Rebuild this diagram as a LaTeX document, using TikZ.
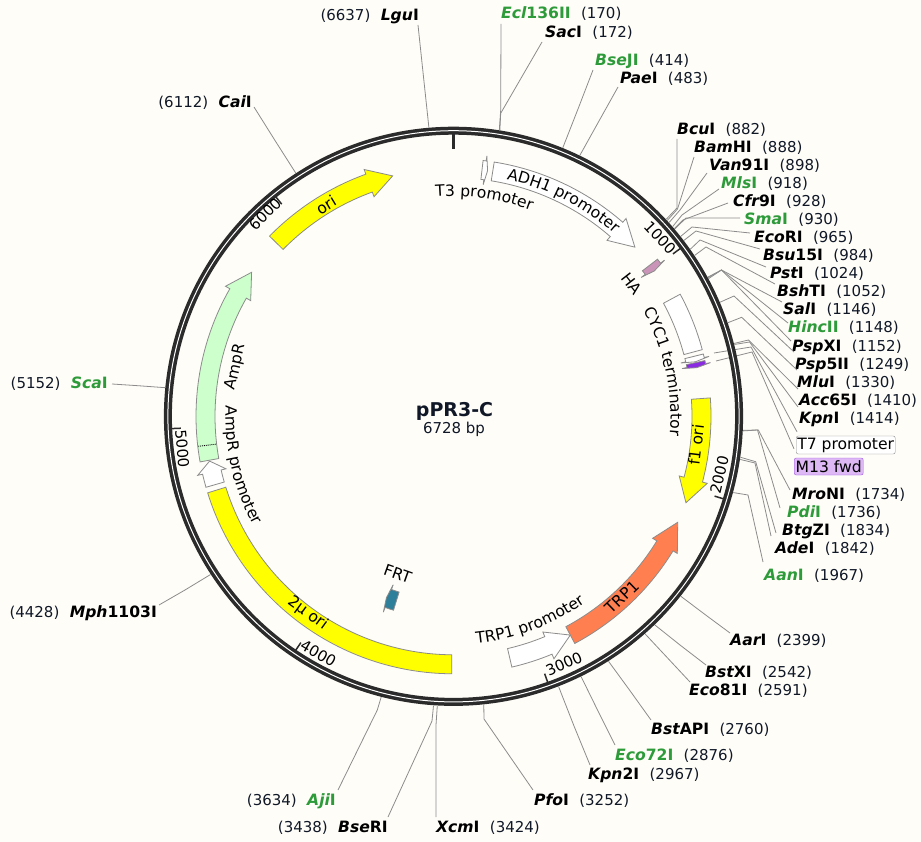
\documentclass[tikz,border=0pt]{standalone}
\usepackage{fontspec}
\setmainfont{DejaVu Sans}
\usetikzlibrary{calc,positioning,decorations.text}

\definecolor{paper}{HTML}{FFFDF7}
\definecolor{ringdark}{HTML}{2B2B2B}
\definecolor{leadgray}{HTML}{8C8C8C}
\definecolor{sitegreen}{HTML}{2E9B3A}
\definecolor{sitedark}{HTML}{000000}
\definecolor{numdark}{HTML}{101828}
\definecolor{oriyellow}{HTML}{FFFF00}
\definecolor{orangetrp}{HTML}{FF7F50}
\definecolor{mintamp}{HTML}{CCFFCC}
\definecolor{pinkha}{HTML}{C994B8}
\definecolor{bluefrt}{HTML}{2E7F9A}
\definecolor{purplem}{HTML}{8A2BE2}
\definecolor{lilacm}{HTML}{DDB8F5}

\newcommand{\featfont}{\fontsize{15.6}{18}\selectfont}
\newcommand{\enz}[2]{{\bfseries\itshape #1}{\bfseries #2}}

% arrow on the track: fill, tail, head base, tip (clock angles), optional mid radius
\newcommand{\featarrow}[5][248]{
    \draw[feat,fill=#2] ({#3-90}:{#1+9.5})
        arc [start angle={#3-90}, end angle={#4-90}, radius={#1+9.5}]
        -- ({#4-90}:{#1+14.5}) -- ({#5-90}:#1) -- ({#4-90}:{#1-14.5}) -- ({#4-90}:{#1-9.5})
        arc [start angle={#4-90}, end angle={#3-90}, radius={#1-9.5}] -- cycle;
}
% plain band on the track
\newcommand{\featband}[3]{
    \draw[feat,fill=#1] ({#2-90}:257.5)
        arc [start angle={#2-90}, end angle={#3-90}, radius=257.5]
        -- ({#3-90}:238.5)
        arc [start angle={#3-90}, end angle={#2-90}, radius=238.5] -- cycle;
}
% text bent along a circle
\newcommand{\arctext}[4]{
    \path[decorate, decoration={text along path, text align=center, text={|\featfont|#4}}]
        ({#1-90}:#3) arc [start angle={#1-90}, end angle={#2-90}, radius=#3];
}

\tikzset{
    sitename/.style={font=\fontsize{15.6}{18}\selectfont, inner sep=0pt, text height=10pt, text depth=0pt},
    sitenum/.style={font=\fontsize{15}{18}\selectfont, inner sep=0pt, text height=10pt, text depth=0pt, text=numdark},
    leader/.style={draw=leadgray, line width=0.8pt},
    feat/.style={draw=leadgray, line width=0.8pt, line join=miter},
    featlabel/.style={font=\featfont, inner sep=0pt},
    tickmark/.style={draw=ringdark, line width=1.5pt},
    ticklabel/.style={font=\fontsize{15}{18}\selectfont, inner sep=0pt}
}

\begin{document}
\begin{tikzpicture}[x=1pt, y=-1pt]
    \fill[paper] (0,0) rectangle (921,842);
    \useasboundingbox (0,0) rectangle (921,842);
    \coordinate (c) at (453.5,416.3);

    % Sites with the number on the right
    \foreach \nx/\ny/\itpart/\rmpart/\pos/\col/\kx/\ky/\dx/\dy in {
        501/14/Ecl/136II/170/sitegreen/500.7/110/0/10,
        545/33/Sac/I/172/sitedark/500.7/113.3/-3/9,
        595/61/Bse/JI/414/sitegreen/578/109/-2/9,
        620/79/Pae/I/483/sitedark/599/121/-2/8,
        677/130/Bcu/I/882/sitedark/677/208/0/9,
        694/148/Bam/HI/888/sitedark/677.5/209/0/9,
        709/166/Van/91I/898/sitedark/680/210/-2/7,
        721/184/Mls/I/918/sitegreen/682/215/-2/5,
        733/202/Cfr/9I/928/sitedark/683/220/-5/1,
        744/220/Sma/I/930/sitegreen/686/218/-4/-2,
        754/238/Eco/RI/965/sitedark/692/227/-4/-5,
        763/256/Bsu/15I/984/sitedark/696/231/-3/-7,
        770/274/Pst/I/1024/sitedark/700/240/-4/-7,
        777/292/Bsh/TI/1052/sitedark/706/247/-2/-8,
        783/310/Sal/I/1146/sitedark/721.5/270/-1/-8,
        788/328/Hinc/II/1148/sitegreen/721.5/270/0/-5,
        792/346/Psp/XI/1152/sitedark/721.5/270/-1/-5,
        795/364/Psp/5II/1249/sitedark/734/296/-1/-12,
        797/382/Mlu/I/1330/sitedark/741.7/317.3/0/-12,
        799/400/Acc/65I/1410/sitedark/748.5/340/-1/-11,
        799/418/Kpn/I/1414/sitedark/749.5/342/-1/-11,
        792/494/Mro/NI/1734/sitedark/758.3/430/-2/-4,
        787/512/Pdi/I/1736/sitegreen/757.5/430/-7/-4,
        782/530/Btg/ZI/1834/sitedark/755.7/461.7/-6/3,
        775/548/Ade/I/1842/sitedark/755/463/-4/-12,
        764/575/Aan/I/1967/sitegreen/748/495/-1/-13,
        730/640/Aar/I/2399/sitedark/705/614.5/0/-7,
        705/672/Bst/XI/2542/sitedark/680/645/1/-7,
        689/690/Eco/81I/2591/sitedark/667.6/658/1/-8,
        651/729/Bst/API/2760/sitedark/630/690.7/0/-9,
        615/755/Eco/72I/2876/sitegreen/598/711/0/-10,
        588/774/Kpn/2I/2967/sitedark/574/726/2/-9,
        534/800/Pfo/I/3252/sitedark/484/719/-1/-10,
        436/827/Xcm/I/3424/sitedark/436/725/0/-10} {
        \node[sitename, anchor=west, text=\col] (s\pos) at (\nx,\ny) {\enz{\itpart}{\rmpart}};
        \node[sitenum, right=10pt of s\pos] (n\pos) {(\pos)};
        \coordinate (r\pos) at ($(c)+({\pos/6728*360-90}:290)$);
        \coordinate (k\pos) at (\kx,\ky);
        \draw[leader] (r\pos) -- (k\pos) -- ($(s\pos.west)+(\dx,\dy)$);
    }

    % Sites with the number on the left
    \foreach \nx/\ny/\itpart/\rmpart/\pos/\col/\kx/\ky/\dx/\dy in {
        419/16/Lgu/I/6637/sitedark/423.4/76/-1/9,
        252/103/Cai/I/6112/sitedark/274.7/140/2/4,
        108/383/Sca/I/5152/sitegreen/138/385.7/4/1,
        157/612/Mph/1103I/4428/sitedark/185/590/2/-7,
        336/800/Aji/I/3634/sitegreen/377.3/710/2/-10,
        388/827/Bse/RI/3438/sitedark/432/721/0/-10} {
        \node[sitename, anchor=east, text=\col] (s\pos) at (\nx,\ny) {\enz{\itpart}{\rmpart}};
        \node[sitenum, left=10pt of s\pos] (n\pos) {(\pos)};
        \coordinate (r\pos) at ($(c)+({\pos/6728*360-90}:290)$);
        \coordinate (k\pos) at (\kx,\ky);
        \draw[leader] (r\pos) -- (k\pos) -- ($(s\pos.east)+(\dx,\dy)$);
    }

    % Feature boxes on the right
    \node[draw=leadgray, fill=white, rounded corners=2pt, inner sep=0pt, minimum width=99pt, minimum height=18pt,
        font=\featfont, anchor=west] (t7box) at (796,445) {T7 promoter};
    \node[draw=purplem!80, fill=lilacm, rounded corners=2pt, inner sep=0pt, minimum width=69pt, minimum height=17pt,
        font=\featfont, anchor=west] (m13box) at (794,466.5) {M13 fwd};
    \coordinate (t7foot) at (714,353);
    \coordinate (t7knee) at (751,347);
    \coordinate (m13foot) at (716,361);
    \coordinate (m13knee) at (752,352);
    \draw[leader] (t7foot) -- (t7knee) -- ($(t7box.north west)+(1,-4)$);
    \draw[leader] (m13foot) -- (m13knee) -- ($(m13box.north west)+(0,-9)$);

    % Backbone
    \draw[ringdark, line width=8pt] (c) circle (285.6);
    \draw[white, line width=1pt] (c) circle (285.6);

    \begin{scope}[shift={(c)}]
        % Ticks
        \draw[ringdark, line width=2.7pt] (-90:282.5) -- (-90:267.5);
        \foreach \a in {53.5, 107, 160.5, 214, 267.5, 321} {
            \draw[tickmark] ({\a-90}:283) -- ({\a-90}:273);
        }

        % Features
        \featarrow{oriyellow}{314.4}{340.1}{345.8}
        \featarrow{mintamp}{259.8}{299.7}{305.5}
        \featarrow{white}{254}{257}{259.6}
        \featband{oriyellow}{180.4}{252.7}
        \featarrow{white}{9.1}{41.1}{47}
        \featarrow{white}{6.6}{7.3}{7.9}
        \featband{white}{61.7}{75}
        \featarrow{white}{76}{76.8}{77.3}
        \featarrow{purplem}{77.5}{78.2}{78.7}
        \featarrow{pinkha}{52.4}{53.5}{54.1}
        \featarrow{oriyellow}{85.9}{104.8}{110.4}
        \featarrow{orangetrp}{151.9}{121.5}{115.3}
        \featarrow{white}{166.9}{157.5}{151.9}
        \featarrow[193.5]{bluefrt}{197.2}{199.7}{200.3}
        \draw[black, densely dotted, line width=0.9pt] (173.3:239) -- (173.3:258);

        % Bent labels
        \arctext{-4}{58}{243}{ADH1 promoter}
        \arctext{-22}{38}{220}{T3 promoter}
        \arctext{48}{108}{217}{CYC1 terminator}
        \arctext{190}{129}{228}{TRP1 promoter}
        \arctext{287}{227}{228}{AmpR promoter}
    \end{scope}

    % Straight labels
    \node[featlabel, rotate=31] (orilabel) at (326,205) {ori};
    \node[featlabel, rotate=83] (f1label) at (696,445) {f1 ori};
    \node[featlabel, rotate=44] (trplabel) at (622,597) {TRP1};
    \node[featlabel, rotate=-36] (twomu) at (307.7,613.3) {2µ ori};
    \node[featlabel, rotate=77] (amplabel) at (236,367) {AmpR};
    \node[featlabel, rotate=-19.5] (frtlabel) at (397.7,574) {FRT};
    \node[featlabel, rotate=-52] (halabel) at (632,284) {HA};

    % Tick labels
    \node[ticklabel, rotate=-47] (tick1) at (660,238) {1000};
    \node[ticklabel, rotate=77] (tick2) at (719.3,475) {2000};
    \node[ticklabel, rotate=24] (tick3) at (564,664) {3000};
    \node[ticklabel, rotate=-30] (tick4) at (318.3,653.3) {4000};
    \node[ticklabel, rotate=-85] (tick5) at (182.3,449) {5000};
    \node[ticklabel, rotate=45] (tick6) at (265,214) {6000};

    % Title
    \node[font=\fontsize{19}{22}\selectfont\bfseries, inner sep=0pt, text=numdark] (title) at (454.5,411) {pPR3-C};
    \node[font=\fontsize{15}{18}\selectfont, inner sep=0pt, text=numdark] (size) at (454,429) {6728 bp};
\end{tikzpicture}
\end{document}
